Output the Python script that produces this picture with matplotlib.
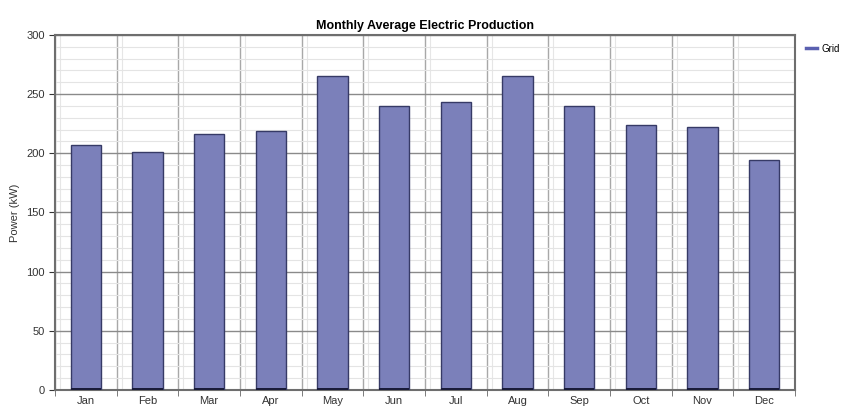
import matplotlib
matplotlib.use("Agg")
import matplotlib.pyplot as plt
from matplotlib.ticker import MultipleLocator, FixedLocator
from matplotlib.lines import Line2D
import numpy as np

months = ["Jan", "Feb", "Mar", "Apr", "May", "Jun", "Jul", "Aug", "Sep", "Oct", "Nov", "Dec"]
power = [207, 201, 216, 219, 265, 240, 243, 265, 240, 224, 222, 194]
series_name = "Grid"

plt.rcParams['font.family'] = ['Liberation Sans Narrow', 'Liberation Sans', 'DejaVu Sans']

fig = plt.figure(figsize=(8.45, 4.13), dpi=100)
ax = fig.add_axes([0.0651, 0.0557, 0.8757, 0.8596])

x = np.arange(len(months))
bar_color = "#7b80ba"
edge_color = "#363a66"
ax.bar(x, power, width=0.49, color=bar_color, edgecolor=edge_color, linewidth=1.0, zorder=3, label=series_name)
# dark base line at bottom of each bar
ax.bar(x, [2.0] * len(x), width=0.49, color="#1a1c3a", linewidth=0, zorder=4)

ax.set_xlim(-0.5, len(months) - 0.5)
ax.set_ylim(0, 300)
ax.yaxis.set_major_locator(MultipleLocator(50))
ax.yaxis.set_minor_locator(MultipleLocator(10))
ax.set_xticks(x)
ax.set_xticklabels(months)
ax.xaxis.set_minor_locator(FixedLocator(np.arange(-0.5, len(months), 1.0)))

ax.grid(which="major", axis="y", color="#8a8a8a", linewidth=1.0, zorder=0)
ax.grid(which="minor", axis="y", color="#e4e4e4", linewidth=0.8, zorder=0)
ax.grid(which="minor", axis="x", color="#a8a8a8", linewidth=1.0, zorder=0)
for b in np.arange(-0.5, len(months), 1.0):
    ax.axvline(b + 0.08, color="#e6e6e6", linewidth=0.8, zorder=0)

ax.tick_params(axis="x", which="major", length=0, labelsize=8, pad=4, colors="#333333")
ax.tick_params(axis="x", which="minor", length=4, direction="out", color="#666666")
ax.tick_params(axis="y", which="major", length=4, labelsize=8, colors="#333333")
ax.tick_params(axis="y", which="minor", length=0)

for s in ax.spines.values():
    s.set_color("#6e6e6e")
    s.set_linewidth(1.5)

ax.set_ylabel("Power (kW)", fontsize=8, color="#333333", labelpad=14)
ax.yaxis.set_label_coords(-0.047, 0.5)
ax.set_title("Monthly Average Electric Production", fontsize=9, fontweight="bold", pad=4)

handle = Line2D([0], [0], color="#5a60b0", linewidth=2.5)
fig.legend([handle], [series_name], loc="upper left", bbox_to_anchor=(0.943, 0.915),
           frameon=False, fontsize=7, handlelength=1.2, handletextpad=0.4)

fig.savefig("out.png", dpi=100)
